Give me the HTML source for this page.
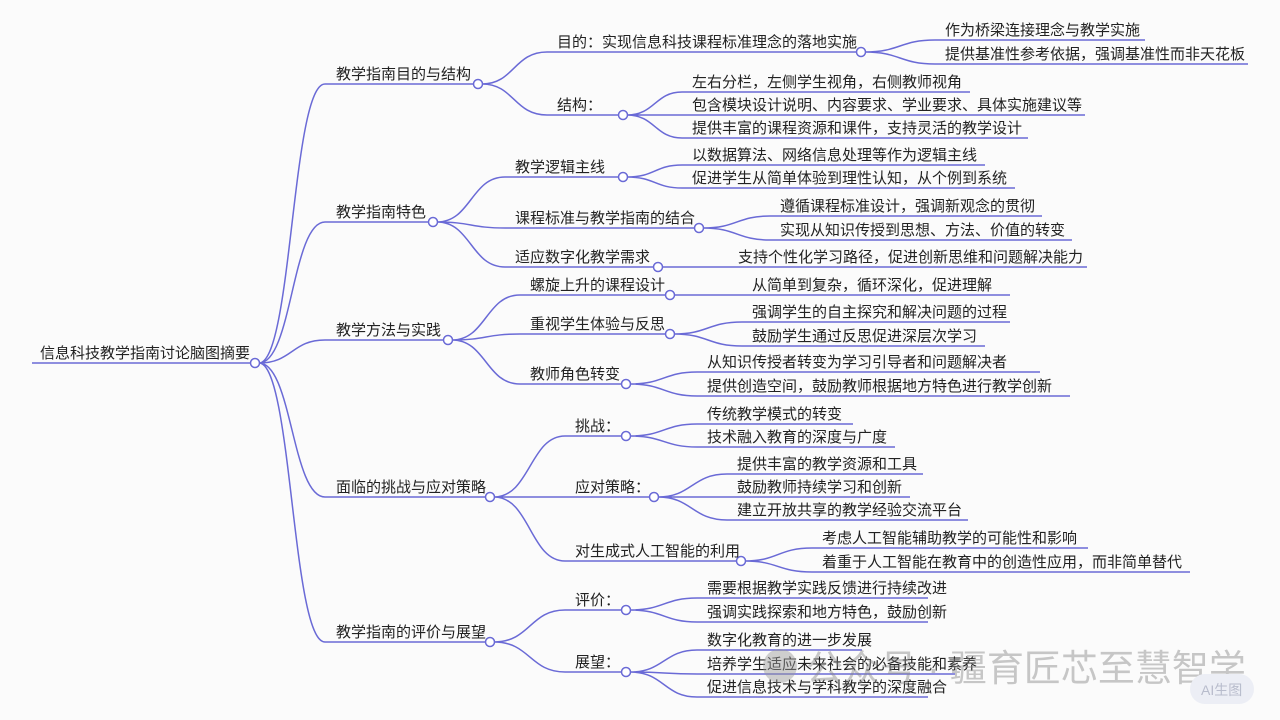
<!DOCTYPE html>
<html><head><meta charset="utf-8"><style>
html,body{margin:0;padding:0;background:#fbfbfb;}
svg{display:block}
text{font-family:"Liberation Sans","Noto Sans CJK SC",sans-serif;font-size:15px;fill:#222;}
.l{stroke:#6a6ad6;stroke-width:1.5;fill:none}
circle{fill:#fff;stroke:#6a6ad6;stroke-width:1.5}
</style></head><body>
<svg width="1280" height="720" viewBox="0 0 1280 720">
<g class="l">
<path d="M32 363H255"/>
<path d="M325 84H477M325 222H432M325 340H447M325 497H489M325 642H489"/>
<path d="M547 52H860M547 115H622M505 177H622M505 228H698M505 267H657M520 295H669M520 334H669M520 384H625M565 436H625M565 497H653M565 561H740M565 610H625M565 672H625"/>
<path d="M935 40H1145M935 64H1248M682 92H970M682 115H1085M682 138H1028M682 165H985M682 188H1015M770 216H1042M770 240H1072M728 267H1087M742 295H1010M742 322H1010M742 346H985M697 372H1040M697 396H1070M697 424H853M697 447H895M727 474H923M727 497H910M727 520H968M812 548H1088M812 572H1190M697 598H928M697 622H928M697 650H862M697 674H955M697 697H928"/>
<path d="M259 363C292 363 292 84 325 84M259 363C292 363 292 222 325 222M259 363C292 363 292 340 325 340M259 363C292 363 292 497 325 497M259 363C292 363 292 642 325 642"/>
<path d="M482 84C514 84 514 52 547 52M482 84C514 84 514 115 547 115"/>
<path d="M437 222C471 222 471 177 505 177M437 222C471 222 471 228 505 228M437 222C471 222 471 267 505 267"/>
<path d="M452 340C486 340 486 295 520 295M452 340C486 340 486 334 520 334M452 340C486 340 486 384 520 384"/>
<path d="M494 497C530 497 530 436 565 436M494 497C530 497 530 497 565 497M494 497C530 497 530 561 565 561"/>
<path d="M494 642C530 642 530 610 565 610M494 642C530 642 530 672 565 672"/>
<path d="M865 52C900 52 900 40 935 40M865 52C900 52 900 64 935 64"/>
<path d="M627 115C655 115 655 92 682 92M627 115C655 115 655 115 682 115M627 115C655 115 655 138 682 138"/>
<path d="M627 177C655 177 655 165 682 165M627 177C655 177 655 188 682 188"/>
<path d="M703 228C737 228 737 216 770 216M703 228C737 228 737 240 770 240"/>
<path d="M662 267H728M674 295H742"/>
<path d="M674 334C708 334 708 322 742 322M674 334C708 334 708 346 742 346"/>
<path d="M630 384C664 384 664 372 697 372M630 384C664 384 664 396 697 396"/>
<path d="M630 436C664 436 664 424 697 424M630 436C664 436 664 447 697 447"/>
<path d="M658 497C692 497 692 474 727 474M658 497C692 497 692 497 727 497M658 497C692 497 692 520 727 520"/>
<path d="M745 561C778 561 778 548 812 548M745 561C778 561 778 572 812 572"/>
<path d="M630 610C664 610 664 598 697 598M630 610C664 610 664 622 697 622"/>
<path d="M630 672C664 672 664 650 697 650M630 672C664 672 664 674 697 674M630 672C664 672 664 697 697 697"/>
</g>
<g>
<circle cx="255" cy="363" r="4.5"/>
<circle cx="478" cy="84" r="4.5"/><circle cx="433" cy="222" r="4.5"/><circle cx="448" cy="340" r="4.5"/><circle cx="490" cy="497" r="4.5"/><circle cx="490" cy="642" r="4.5"/>
<circle cx="861" cy="52" r="4.5"/><circle cx="623" cy="115" r="4.5"/><circle cx="623" cy="177" r="4.5"/><circle cx="699" cy="228" r="4.5"/><circle cx="658" cy="267" r="4.5"/><circle cx="670" cy="295" r="4.5"/><circle cx="670" cy="334" r="4.5"/><circle cx="626" cy="384" r="4.5"/><circle cx="626" cy="436" r="4.5"/><circle cx="654" cy="497" r="4.5"/><circle cx="741" cy="561" r="4.5"/><circle cx="626" cy="610" r="4.5"/><circle cx="626" cy="672" r="4.5"/>
</g>
<g>
<text x="40" y="358">信息科技教学指南讨论脑图摘要</text>
<text x="336" y="79">教学指南目的与结构</text>
<text x="336" y="217">教学指南特色</text>
<text x="336" y="335">教学方法与实践</text>
<text x="336" y="492">面临的挑战与应对策略</text>
<text x="336" y="637">教学指南的评价与展望</text>
<text x="557" y="47">目的：实现信息科技课程标准理念的落地实施</text>
<text x="557" y="110">结构：</text>
<text x="515" y="172">教学逻辑主线</text>
<text x="515" y="223">课程标准与教学指南的结合</text>
<text x="515" y="262">适应数字化教学需求</text>
<text x="530" y="290">螺旋上升的课程设计</text>
<text x="530" y="329">重视学生体验与反思</text>
<text x="530" y="379">教师角色转变</text>
<text x="575" y="431">挑战：</text>
<text x="575" y="492">应对策略：</text>
<text x="575" y="556">对生成式人工智能的利用</text>
<text x="575" y="605">评价：</text>
<text x="575" y="667">展望：</text>
<text x="945" y="35">作为桥梁连接理念与教学实施</text>
<text x="945" y="59">提供基准性参考依据，强调基准性而非天花板</text>
<text x="692" y="87">左右分栏，左侧学生视角，右侧教师视角</text>
<text x="692" y="110">包含模块设计说明、内容要求、学业要求、具体实施建议等</text>
<text x="692" y="133">提供丰富的课程资源和课件，支持灵活的教学设计</text>
<text x="692" y="160">以数据算法、网络信息处理等作为逻辑主线</text>
<text x="692" y="183">促进学生从简单体验到理性认知，从个例到系统</text>
<text x="780" y="211">遵循课程标准设计，强调新观念的贯彻</text>
<text x="780" y="235">实现从知识传授到思想、方法、价值的转变</text>
<text x="738" y="262">支持个性化学习路径，促进创新思维和问题解决能力</text>
<text x="752" y="290">从简单到复杂，循环深化，促进理解</text>
<text x="752" y="317">强调学生的自主探究和解决问题的过程</text>
<text x="752" y="341">鼓励学生通过反思促进深层次学习</text>
<text x="707" y="367">从知识传授者转变为学习引导者和问题解决者</text>
<text x="707" y="391">提供创造空间，鼓励教师根据地方特色进行教学创新</text>
<text x="707" y="419">传统教学模式的转变</text>
<text x="707" y="442">技术融入教育的深度与广度</text>
<text x="737" y="469">提供丰富的教学资源和工具</text>
<text x="737" y="492">鼓励教师持续学习和创新</text>
<text x="737" y="515">建立开放共享的教学经验交流平台</text>
<text x="822" y="543">考虑人工智能辅助教学的可能性和影响</text>
<text x="822" y="567">着重于人工智能在教育中的创造性应用，而非简单替代</text>
<text x="707" y="593">需要根据教学实践反馈进行持续改进</text>
<text x="707" y="617">强调实践探索和地方特色，鼓励创新</text>
<text x="707" y="645">数字化教育的进一步发展</text>
<text x="707" y="669">培养学生适应未来社会的必备技能和素养</text>
<text x="707" y="692">促进信息技术与学科教学的深度融合</text>
</g>
<g opacity="0.45">
<circle cx="780" cy="666" r="17" style="fill:#999;stroke:none"/>
<text x="806" y="681" style="font-size:37px;fill:#888">公众号 · 疆育匠芯至慧智学</text>
</g>
<rect x="1190" y="674" width="64" height="30" rx="15" fill="#eceef5"/>
<text x="1201" y="695" style="font-size:14px;fill:#b8bccc">AI生图</text>
</svg>
</body></html>
